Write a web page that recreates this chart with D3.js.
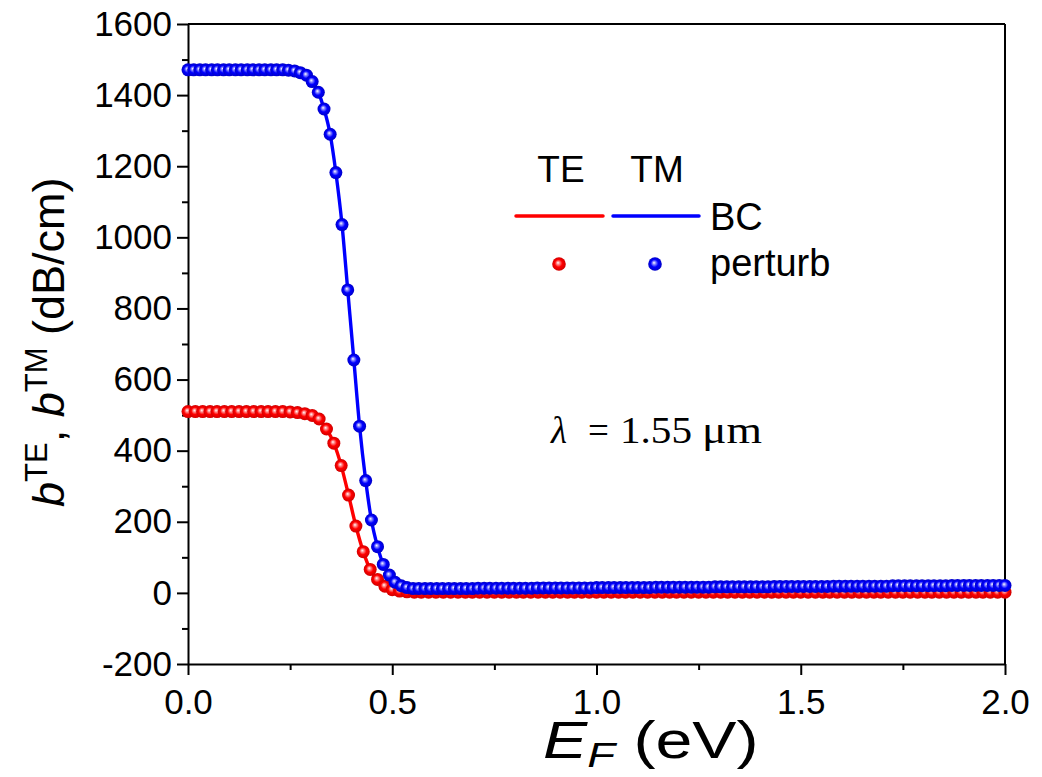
<!DOCTYPE html>
<html>
<head>
<meta charset="utf-8">
<script src="https://cdn.jsdelivr.net/npm/d3@7"></script>
<style>
  html, body { margin: 0; padding: 0; background: #fff; }
  svg { display: block; font-family: Arial, 'Liberation Sans', sans-serif; }
</style>
</head>
<body>
<svg id="chart" width="1042" height="777"></svg>
<script>
// TM (blue) curve, E_F in eV
const efTM = [
  0.000, 0.014, 0.029, 0.043, 0.058, 0.072, 0.087, 0.101, 0.116, 0.130,
  0.145, 0.159, 0.174, 0.188, 0.203, 0.217, 0.232, 0.246, 0.261, 0.275,
  0.290, 0.304, 0.319, 0.333, 0.348, 0.362, 0.377, 0.391, 0.406, 0.420,
  0.435, 0.449, 0.464, 0.478, 0.493, 0.507, 0.522, 0.536, 0.551, 0.565,
  0.580, 0.594, 0.609, 0.623, 0.638, 0.652, 0.667, 0.681, 0.696, 0.710,
  0.725, 0.739, 0.754, 0.768, 0.783, 0.797, 0.812, 0.826, 0.841, 0.855,
  0.870, 0.884, 0.899, 0.913, 0.928, 0.942, 0.957, 0.971, 0.986, 1.000,
  1.014, 1.029, 1.043, 1.058, 1.072, 1.087, 1.101, 1.116, 1.130, 1.145,
  1.159, 1.174, 1.188, 1.203, 1.217, 1.232, 1.246, 1.261, 1.275, 1.290,
  1.304, 1.319, 1.333, 1.348, 1.362, 1.377, 1.391, 1.406, 1.420, 1.435,
  1.449, 1.464, 1.478, 1.493, 1.507, 1.522, 1.536, 1.551, 1.565, 1.580,
  1.594, 1.609, 1.623, 1.638, 1.652, 1.667, 1.681, 1.696, 1.710, 1.725,
  1.739, 1.754, 1.768, 1.783, 1.797, 1.812, 1.826, 1.841, 1.855, 1.870,
  1.884, 1.899, 1.913, 1.928, 1.942, 1.957, 1.971, 1.986, 2.000
]
// b^TM in dB/cm
const bTM = [
  1471, 1471, 1471, 1471, 1471, 1471, 1471, 1471, 1471, 1471,
  1471, 1471, 1471, 1471, 1471, 1471, 1471, 1470, 1468, 1463,
  1456, 1438, 1408, 1361, 1290, 1182, 1036, 852, 655, 469,
  316, 205, 130, 80, 50, 30, 20, 15, 12, 12,
  12, 12, 12, 12, 12, 12, 12, 12, 12, 13,
  13, 13, 13, 13, 13, 13, 13, 13, 13, 14,
  14, 14, 14, 14, 14, 14, 14, 14, 14, 15,
  15, 15, 15, 15, 15, 15, 15, 15, 15, 16,
  16, 16, 16, 16, 16, 16, 16, 16, 16, 17,
  17, 17, 17, 17, 17, 17, 17, 17, 17, 18,
  18, 18, 18, 18, 18, 18, 18, 18, 18, 19,
  19, 19, 19, 19, 19, 19, 19, 19, 19, 20,
  20, 20, 20, 20, 20, 20, 20, 20, 20, 21,
  21, 21, 21, 21, 21, 21, 21, 21, 21
]

// TE (red) curve
const efTE = [
  0.000, 0.018, 0.036, 0.054, 0.071, 0.089, 0.107, 0.125, 0.143, 0.161,
  0.179, 0.196, 0.214, 0.232, 0.250, 0.268, 0.286, 0.304, 0.321, 0.339,
  0.357, 0.375, 0.393, 0.411, 0.429, 0.446, 0.464, 0.482, 0.500, 0.518,
  0.536, 0.554, 0.571, 0.589, 0.607, 0.625, 0.643, 0.661, 0.679, 0.696,
  0.714, 0.732, 0.750, 0.768, 0.786, 0.804, 0.821, 0.839, 0.857, 0.875,
  0.893, 0.911, 0.929, 0.946, 0.964, 0.982, 1.000, 1.018, 1.036, 1.054,
  1.071, 1.089, 1.107, 1.125, 1.143, 1.161, 1.179, 1.196, 1.214, 1.232,
  1.250, 1.268, 1.286, 1.304, 1.321, 1.339, 1.357, 1.375, 1.393, 1.411,
  1.429, 1.446, 1.464, 1.482, 1.500, 1.518, 1.536, 1.554, 1.571, 1.589,
  1.607, 1.625, 1.643, 1.661, 1.679, 1.696, 1.714, 1.732, 1.750, 1.768,
  1.786, 1.804, 1.821, 1.839, 1.857, 1.875, 1.893, 1.911, 1.929, 1.946,
  1.964, 1.982, 2.000
]
const bTE = [
  510, 510, 510, 510, 510, 510, 510, 510, 510, 510,
  510, 510, 510, 510, 509, 507, 504, 499, 489, 461,
  421, 358, 275, 188, 116, 66, 38, 19, 9, 5,
  3, 2, 2, 2, 2, 2, 2, 2, 2, 2,
  2, 2, 2, 2, 2, 2, 2, 2, 2, 2,
  2, 2, 2, 2, 2, 2, 2, 2, 2, 2,
  2, 2, 2, 2, 2, 2, 2, 2, 2, 2,
  2, 2, 2, 2, 2, 2, 2, 2, 2, 2,
  2, 2, 2, 2, 2, 2, 2, 2, 2, 2,
  2, 2, 2, 2, 2, 2, 2, 2, 2, 2,
  2, 2, 2, 2, 2, 2, 2, 2, 2, 2,
  2, 2, 2
]

const xMajor = [0, 0.5, 1.0, 1.5, 2.0]
const xMinor = [0.25, 0.75, 1.25, 1.75]
const yMajor = [-200, 0, 200, 400, 600, 800, 1000, 1200, 1400, 1600]
const yMinor = [-100, 100, 300, 500, 700, 900, 1100, 1300, 1500]

const margin = { top: 24, right: 37, bottom: 113, left: 188 }
const width = 1042, height = 777
const chartWidth = width - margin.left - margin.right
const chartHeight = height - margin.top - margin.bottom

const svg = d3.select('#chart')

// sphere-like marker gradients
const defs = svg.append('defs')
function sphere(id, light, mid, dark) {
  const g = defs.append('radialGradient')
    .attr('id', id)
    .attr('cx', '0.5').attr('cy', '0.5').attr('r', '0.5')
    .attr('fx', '0.42').attr('fy', '0.4')
  g.append('stop').attr('offset', '0%').attr('stop-color', '#ffffff')
  g.append('stop').attr('offset', '22%').attr('stop-color', light)
  g.append('stop').attr('offset', '55%').attr('stop-color', mid)
  g.append('stop').attr('offset', '100%').attr('stop-color', dark)
}
sphere('ballRed', '#ff9090', '#ff0000', '#d00000')
sphere('ballBlue', '#9090ff', '#0000ff', '#0000c8')

const viz = svg.append('g')
  .attr('id', 'viz')
  .attr('transform', `translate(${margin.left},${margin.top})`)

const x = d3.scaleLinear([0, 2], [0, chartWidth])
const y = d3.scaleLinear([-200, 1600], [chartHeight, 0])

const tickFont = 35

// x axis: minor then major
viz.append('g')
  .attr('transform', `translate(0,${chartHeight})`)
  .call(d3.axisBottom(x).tickValues(xMinor).tickSize(6).tickSizeOuter(0).tickFormat(''))
  .call((g) => g.select('.domain').remove())
  .call((g) => g.selectAll('line').attr('stroke-width', 2))
viz.append('g')
  .attr('transform', `translate(0,${chartHeight})`)
  .call(d3.axisBottom(x).tickValues(xMajor).tickSize(11).tickSizeOuter(0).tickPadding(14)
    .tickFormat(d3.format('.1f')))
  .call((g) => g.select('.domain').attr('stroke-width', 2))
  .call((g) => g.selectAll('line').attr('stroke-width', 2))
  .call((g) => g.selectAll('text').attr('font-size', tickFont).attr('fill', '#000')
    .attr('font-family', 'Arial, Liberation Sans, sans-serif'))

// y axis (plain hyphen for negatives, as in the original)
viz.append('g')
  .call(d3.axisLeft(y).tickValues(yMinor).tickSize(6).tickSizeOuter(0).tickFormat(''))
  .call((g) => g.select('.domain').remove())
  .call((g) => g.selectAll('line').attr('stroke-width', 2))
viz.append('g')
  .call(d3.axisLeft(y).tickValues(yMajor).tickSize(11).tickSizeOuter(0).tickPadding(5)
    .tickFormat((d) => String(d)))
  .call((g) => g.select('.domain').attr('stroke-width', 2))
  .call((g) => g.selectAll('line').attr('stroke-width', 2))
  .call((g) => g.selectAll('text').attr('font-size', tickFont).attr('fill', '#000')
    .attr('font-family', 'Arial, Liberation Sans, sans-serif'))

// top and right frame
viz.append('line').attr('x1', 0).attr('x2', chartWidth).attr('y1', 0).attr('y2', 0)
  .attr('stroke', '#000').attr('stroke-width', 2)
viz.append('line').attr('x1', chartWidth).attr('x2', chartWidth).attr('y1', 0).attr('y2', chartHeight)
  .attr('stroke', '#000').attr('stroke-width', 2)

const line = d3.line().curve(d3.curveMonotoneX)

function series(ef, b, color, ball) {
  const pts = ef.map((e, i) => [x(e), y(b[i])])
  viz.append('path')
    .attr('d', line(pts))
    .attr('fill', 'none')
    .attr('stroke', color)
    .attr('stroke-width', 3.4)
  viz.append('g')
    .selectAll('circle')
    .data(pts)
    .join('circle')
    .attr('cx', (d) => d[0])
    .attr('cy', (d) => d[1])
    .attr('r', 6.5)
    .attr('fill', `url(#${ball})`)
}
series(efTE, bTE, '#ff0000', 'ballRed')
series(efTM, bTM, '#0000ff', 'ballBlue')

// legend
const lg = svg.append('g').attr('id', 'legend')
lg.append('text').attr('x', 561).attr('y', 182).attr('text-anchor', 'middle')
  .attr('font-size', 37).text('TE')
lg.append('text').attr('x', 657).attr('y', 182).attr('text-anchor', 'middle')
  .attr('font-size', 37).text('TM')
lg.append('line').attr('x1', 516).attr('x2', 603).attr('y1', 216).attr('y2', 216)
  .attr('stroke', '#ff0000').attr('stroke-width', 3.5).attr('stroke-linecap', 'round')
lg.append('line').attr('x1', 613).attr('x2', 699).attr('y1', 216).attr('y2', 216)
  .attr('stroke', '#0000ff').attr('stroke-width', 3.5).attr('stroke-linecap', 'round')
lg.append('text').attr('x', 710).attr('y', 230).attr('font-size', 38).text('BC')
lg.append('circle').attr('cx', 559).attr('cy', 264).attr('r', 6.8).attr('fill', 'url(#ballRed)')
lg.append('circle').attr('cx', 655).attr('cy', 264).attr('r', 6.8).attr('fill', 'url(#ballBlue)')
lg.append('text').attr('x', 710).attr('y', 276).attr('font-size', 38).text('perturb')

// wavelength annotation
const lam = svg.append('text')
  .attr('y', 443)
  .attr('font-family', "'Liberation Serif', 'Times New Roman', serif")
  .attr('font-size', 37)
lam.append('tspan').attr('x', 551).attr('font-style', 'italic').text('λ')
lam.append('tspan').attr('x', 588).text('=')
lam.append('tspan').attr('x', 620).attr('textLength', 72).attr('lengthAdjust', 'spacingAndGlyphs').text('1.55')
lam.append('tspan').attr('x', 702).attr('textLength', 60).attr('lengthAdjust', 'spacingAndGlyphs').text('μm')

// axis titles
const xt = svg.append('text')
  .attr('transform', 'translate(543,758) scale(1.3,1)')
  .attr('font-size', 51)
xt.append('tspan').attr('font-style', 'italic').text('E')
xt.append('tspan').attr('font-style', 'italic').attr('font-size', 35).attr('dy', 9).text('F')
xt.append('tspan').attr('dy', -9).text(' (eV)')

const yt = svg.append('text')
  .attr('transform', 'translate(64,507) rotate(-90)')
  .attr('font-size', 45)
yt.append('tspan').attr('font-style', 'italic').text('b')
yt.append('tspan').attr('font-size', 31).attr('dy', -17).text('TE')
yt.append('tspan').attr('dy', 17).text(', ')
yt.append('tspan').attr('font-style', 'italic').text('b')
yt.append('tspan').attr('font-size', 31).attr('dy', -17).text('TM')
yt.append('tspan').attr('dy', 17).text(' (dB/cm)')
</script>
</body>
</html>
